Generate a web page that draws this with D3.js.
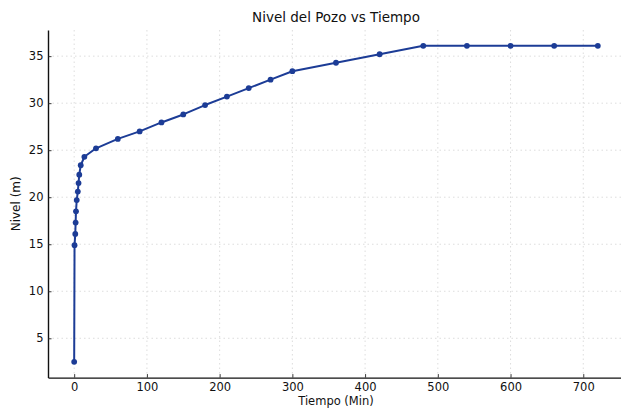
<!DOCTYPE html>
<html>
<head>
<meta charset="utf-8">
<script src="https://cdn.jsdelivr.net/npm/d3@7"></script>
<style>
  html, body { margin: 0; padding: 0; background: #ffffff; }
  svg { display: block; font-family: "DejaVu Sans", sans-serif; }
</style>
</head>
<body>
<svg id="chart" width="621" height="409"></svg>
<script>
const tiempo = [0, 0.5, 1.5, 2, 2.5, 3.5, 5, 6, 7, 9, 14, 30, 60, 90, 120, 150, 180, 210, 240, 270, 300, 360, 420, 480, 540, 600, 660, 720];
const nivel  = [2.5, 14.9, 16.1, 17.3, 18.5, 19.7, 20.6, 21.5, 22.4, 23.4, 24.3, 25.2, 26.2, 27.0, 27.95, 28.8, 29.8, 30.7, 31.6, 32.5, 33.4, 34.3, 35.2, 36.1, 36.1, 36.1, 36.1, 36.1];
const xTicks = [0, 100, 200, 300, 400, 500, 600, 700];
const yTicks = [5, 10, 15, 20, 25, 30, 35];
const title = "Nivel del Pozo vs Tiempo";
const xLabel = "Tiempo (Min)";
const yLabel = "Nivel (m)";

const svg = d3.select("#chart");
const plot = { left: 48, right: 624, top: 30, bottom: 377.6 };

const xMin = d3.min(tiempo), xMax = d3.max(tiempo);
const yMin = d3.min(nivel), yMax = d3.max(nivel);
const xPad = (xMax - xMin) * 0.05, yPad = (yMax - yMin) * 0.05;

const x = d3.scaleLinear().domain([xMin - xPad, xMax + xPad]).range([plot.left, plot.right]);
const y = d3.scaleLinear().domain([yMin - yPad, yMax + yPad]).range([plot.bottom, plot.top]);

// grid
const grid = svg.append("g");
grid.selectAll(".gx").data(xTicks).join("line")
  .attr("x1", d => x(d)).attr("x2", d => x(d))
  .attr("y1", plot.top).attr("y2", plot.bottom)
  .attr("stroke", "#d4d4d4").attr("stroke-width", 0.8).attr("stroke-dasharray", "1.5,3");
grid.selectAll(".gy").data(yTicks).join("line")
  .attr("x1", plot.left).attr("x2", plot.right)
  .attr("y1", d => y(d)).attr("y2", d => y(d))
  .attr("stroke", "#d4d4d4").attr("stroke-width", 0.8).attr("stroke-dasharray", "1.5,3");

// axes (ticks pointing inward)
const xAxis = svg.append("g").attr("transform", `translate(0,${plot.bottom})`)
  .call(d3.axisBottom(x).tickValues(xTicks).tickSizeInner(-3.5).tickSizeOuter(0).tickPadding(5).tickFormat(d3.format("d")));
const yAxis = svg.append("g").attr("transform", `translate(${plot.left},0)`)
  .call(d3.axisLeft(y).tickValues(yTicks).tickSizeInner(-3.5).tickSizeOuter(0).tickPadding(4.5).tickFormat(d3.format("d")));
[xAxis, yAxis].forEach(a => {
  a.selectAll("text").attr("font-size", 11.5).attr("fill", "#111").attr("font-family", "DejaVu Sans, sans-serif");
  a.selectAll("line").attr("stroke", "#222").attr("stroke-width", 0.9);
  a.select(".domain").attr("stroke", "#111").attr("stroke-width", 1.4);
});

// line
const data = tiempo.map((t, i) => ({ t, v: nivel[i] }));
svg.append("path").datum(data)
  .attr("fill", "none").attr("stroke", "#1c3c96").attr("stroke-width", 2)
  .attr("stroke-linejoin", "round")
  .attr("d", d3.line().x(d => x(d.t)).y(d => y(d.v)));
svg.selectAll(".pt").data(data).join("circle")
  .attr("cx", d => x(d.t)).attr("cy", d => y(d.v)).attr("r", 2.9)
  .attr("fill", "#1c3c96");

// texts
svg.append("text").attr("x", (plot.left + plot.right) / 2).attr("y", 22)
  .attr("text-anchor", "middle").attr("font-size", 13.5).attr("fill", "#111").text(title);
svg.append("text").attr("x", 336).attr("y", 405)
  .attr("text-anchor", "middle").attr("font-size", 11.5).attr("fill", "#111").text(xLabel);
svg.append("text").attr("transform", `translate(20,${(plot.top + plot.bottom) / 2}) rotate(-90)`)
  .attr("text-anchor", "middle").attr("font-size", 12).attr("fill", "#111").text(yLabel);
</script>
</body>
</html>
